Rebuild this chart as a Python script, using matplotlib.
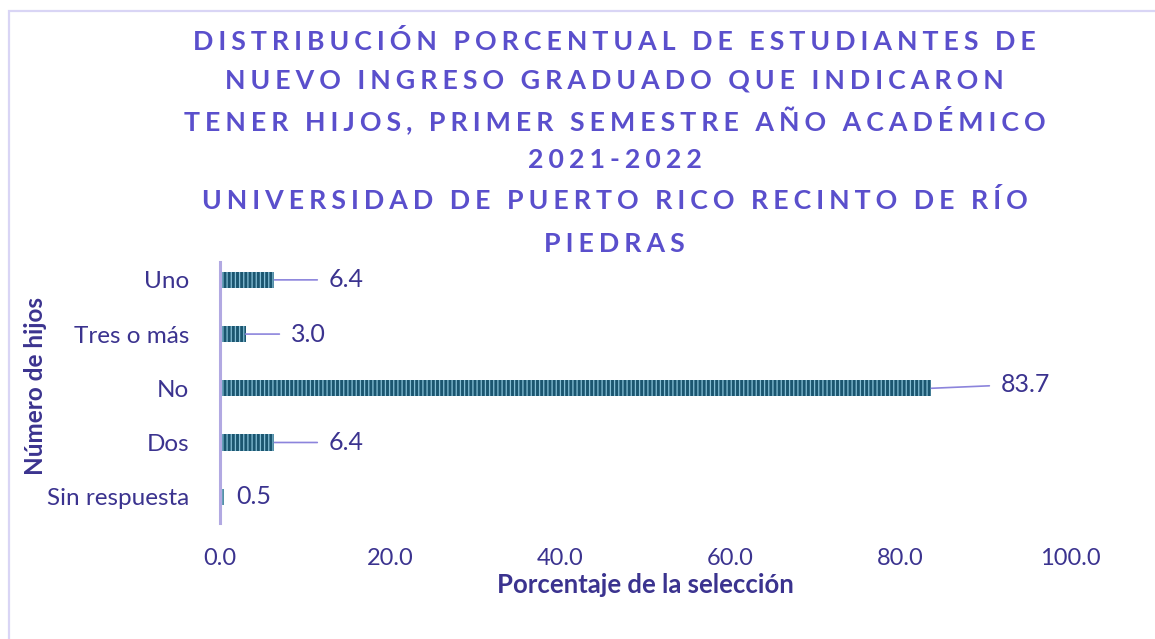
import numpy as np
import matplotlib.pyplot as plt
from matplotlib.patches import Rectangle

# categories bottom -> top, as drawn
categorias = ['Sin respuesta', 'Dos', 'No', 'Tres o más', 'Uno']
porcentajes = [0.5, 6.4, 83.7, 3.0, 6.4]
etiquetas = ['0.5', '6.4', '83.7', '3.0', '6.4']
xticks = [0, 20, 40, 60, 80, 100]

titulo = ['DISTRIBUCIÓN PORCENTUAL DE ESTUDIANTES DE',
          'NUEVO INGRESO GRADUADO QUE INDICARON',
          'TENER HIJOS, PRIMER SEMESTRE AÑO ACADÉMICO',
          '2021-2022',
          'UNIVERSIDAD DE PUERTO RICO RECINTO DE RÍO',
          'PIEDRAS']

plt.rcParams['font.family'] = ['Lato', 'DejaVu Sans']
plt.rcParams['hatch.linewidth'] = 0.9

c_title = '#5a4fcc'
c_text = '#3b338f'
c_spine = '#b2a9e2'
c_leader = '#8c84dc'

fig = plt.figure(figsize=(11.55, 6.39), dpi=100)
ax = fig.add_axes([220 / 1155, 0.182, 850 / 1155, 0.408])

y = np.arange(len(categorias))
ax.barh(y, porcentajes, height=0.3, color='#1b5670', edgecolor='#86bfd6',
        linewidth=0, hatch='||||')

ax.set_xlim(0, 100)
ax.set_ylim(-0.48, 4.33)
ax.set_yticks(y)
ax.set_yticklabels(categorias, fontsize=17.5, color=c_text)
ax.set_xticks(xticks)
ax.set_xticklabels(['%.1f' % v for v in xticks], fontsize=17, color=c_text)
ax.tick_params(axis='both', length=0)
ax.tick_params(axis='y', pad=22)
ax.tick_params(axis='x', pad=18)
for s in ['top', 'right', 'bottom']:
    ax.spines[s].set_visible(False)
ax.spines['left'].set_color(c_spine)
ax.spines['left'].set_linewidth(2.2)

# data labels with leader lines (offsets in pixels)
offs = [(12, 0), (54, 0), (69, 4), (45, 0), (54, 0)]
for yi, v, lab, (dx, dy) in zip(y, porcentajes, etiquetas, offs):
    if dx > 20:
        ax.annotate(lab, xy=(v, yi), xytext=(dx, dy), textcoords='offset pixels',
                    ha='left', va='center', fontsize=18, color=c_text,
                    arrowprops=dict(arrowstyle='-', color=c_leader, lw=1.2,
                                    shrinkA=6, shrinkB=0))
    else:
        ax.annotate(lab, xy=(v, yi), xytext=(dx, dy), textcoords='offset pixels',
                    ha='left', va='center', fontsize=18, color=c_text)

ax.set_xlabel('Porcentaje de la selección', fontsize=18.5, fontweight='bold',
              color=c_text, labelpad=3)
fig.text(0.031, 1 - 386 / 639, 'Número de hijos', rotation=90, ha='center',
         va='center', fontsize=17.5, fontweight='bold', color=c_text)

# title with letter spacing
ys = [42, 80, 120, 160, 200, 244]
for line, yp in zip(titulo, ys):
    spaced = '\u2009\u200a'.join(line)
    fig.text(0.532, 1 - yp / 639, spaced, ha='center', va='center',
             fontsize=19.3, fontweight='bold', color=c_title)

# chart border
fig.patches.append(Rectangle((9 / 1155, -0.01), 1.2, 1 - 11 / 639 + 0.01,
                             transform=fig.transFigure, fill=False,
                             edgecolor='#d9d5f5', linewidth=1.6))

fig.savefig('out.png', dpi=100)
